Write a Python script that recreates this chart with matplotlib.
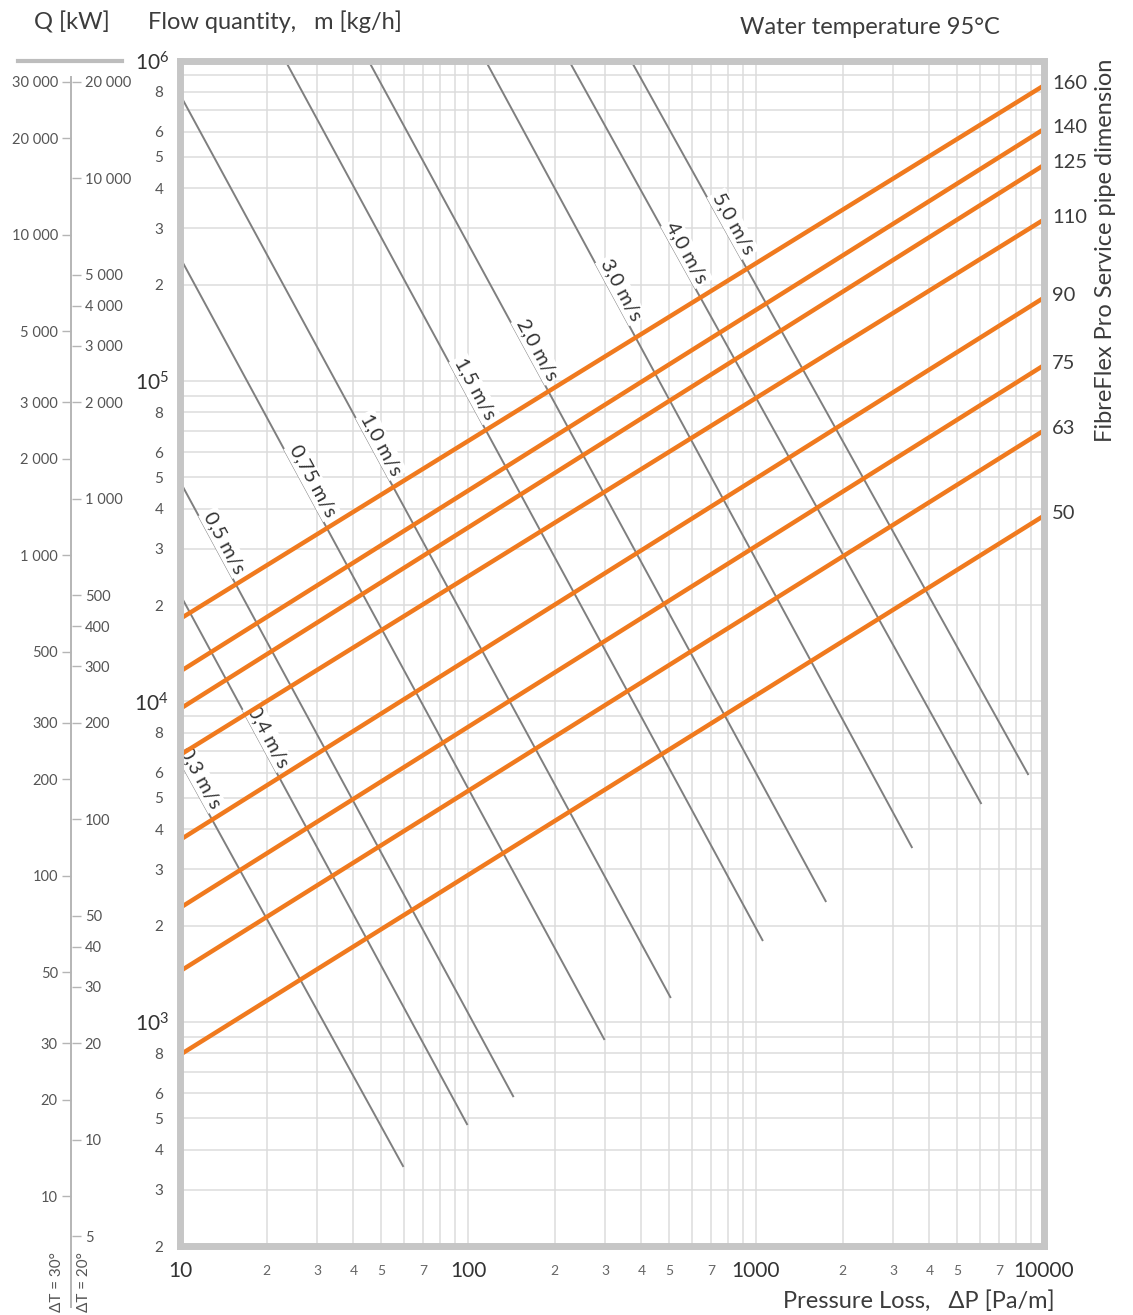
import numpy as np
import matplotlib
matplotlib.use('Agg')
import matplotlib.pyplot as plt
from matplotlib import ticker, transforms
from matplotlib.lines import Line2D

# orange pipe lines, flow [kg/h] read at dP = 10 and dP = 10000 Pa/m
pipe_dims = ['160', '140', '125', '110', '90', '75', '63', '50']
flow_at_10 = [18100, 12400, 9480, 6810, 3700, 2270, 1440, 790]
flow_at_10000 = [836000, 611000, 472000, 319000, 182000, 112000, 70100, 38000]

# grey velocity lines, start and end points (dP [Pa/m], flow [kg/h])
vel_labels = ['0,3 m/s', '0,4 m/s', '0,5 m/s', '0,75 m/s', '1,0 m/s',
              '1,5 m/s', '2,0 m/s', '3,0 m/s', '4,0 m/s', '5,0 m/s']
vel_dp_start = [10, 10, 10, 10, 10, 23.2, 45.1, 115, 224, 368]
vel_m_start = [6500, 21600, 48600, 243000, 783000, 1e6, 1e6, 1e6, 1e6, 1e6]
vel_dp_end = [59.7, 99.6, 144, 298, 506, 1057, 1752, 3488, 6062, 8831]
vel_m_end = [353, 477, 583, 879, 1188, 1789, 2368, 3490, 4788, 5897]

# heat output scale Q [kW]
q_dt30 = [30000, 20000, 10000, 5000, 3000, 2000, 1000, 500, 300, 200,
          100, 50, 30, 20, 10]
q_dt20 = [20000, 10000, 5000, 4000, 3000, 2000, 1000, 500, 400, 300,
          200, 100, 50, 40, 30, 20, 10, 5]
cp = 4.19  # kJ/kgK

plt.rcParams['font.family'] = ['Lato', 'DejaVu Sans']
plt.rcParams['mathtext.default'] = 'regular'

W, H = 1133, 1315
fig = plt.figure(figsize=(W / 100, H / 100), dpi=100)


def fx(px):
    return px / W


def fy(py):
    return 1 - py / H


ORANGE = '#f07a1e'
GREY = '#7f7f7f'
FRAME = '#c6c6c6'
TXT = '#3c3c3c'
TICK = '#555555'

ax = fig.add_axes([fx(180), fy(1246), fx(1044) - fx(180), fy(60.5) - fy(1246)])
ax.set_xscale('log')
ax.set_yscale('log')
ax.set_xlim(10, 10000)
ax.set_ylim(200, 1e6)

ax.xaxis.set_major_locator(ticker.LogLocator(base=10, numticks=10))
ax.xaxis.set_minor_locator(ticker.LogLocator(base=10, subs=np.arange(2, 10), numticks=40))
ax.yaxis.set_major_locator(ticker.LogLocator(base=10, numticks=10))
ax.yaxis.set_minor_locator(ticker.LogLocator(base=10, subs=np.arange(2, 10), numticks=40))


def lead_digit(v):
    return int(round(v / 10 ** np.floor(np.log10(v) + 1e-9)))


ax.xaxis.set_major_formatter(ticker.FuncFormatter(lambda v, p: '%d' % round(v)))
ax.xaxis.set_minor_formatter(ticker.FuncFormatter(
    lambda v, p: str(lead_digit(v)) if lead_digit(v) in (2, 3, 4, 5, 7) else ''))
ax.yaxis.set_major_formatter(ticker.FuncFormatter(
    lambda v, p: r'$10^{%d}$' % round(np.log10(v))))
ax.yaxis.set_minor_formatter(ticker.FuncFormatter(
    lambda v, p: str(lead_digit(v)) if lead_digit(v) in (2, 3, 4, 5, 6, 8) else ''))

ax.tick_params(which='both', length=0)
ax.tick_params(axis='x', which='major', labelsize=15, pad=11, labelcolor='#333333')
ax.tick_params(axis='x', which='minor', labelsize=10, pad=14, labelcolor='#666666')
ax.tick_params(axis='y', which='major', labelsize=15, pad=8, labelcolor='#333333')
ax.tick_params(axis='y', which='minor', labelsize=11, pad=12, labelcolor=TICK)

ax.grid(which='both', color='#dcdcdc', lw=1.1)
ax.set_axisbelow(True)
for s in ax.spines.values():
    s.set_color(FRAME)
    s.set_linewidth(5)
    s.set_zorder(6)

# velocity lines
for i in range(len(vel_labels)):
    ax.plot([vel_dp_start[i], vel_dp_end[i]], [vel_m_start[i], vel_m_end[i]],
            color=GREY, lw=1.4, zorder=2, solid_capstyle='butt')

# pipe lines
for i in range(len(pipe_dims)):
    ax.plot([10, 10000], [flow_at_10[i], flow_at_10000[i]],
            color=ORANGE, lw=3.2, zorder=4, solid_capstyle='butt')
    ax.annotate(pipe_dims[i], xy=(10000, flow_at_10000[i]), xytext=(8, 2),
                textcoords='offset pixels', ha='left', va='center',
                fontsize=14.5, color=TXT, annotation_clip=False)

# velocity labels, placed along each line
label_at = [10.96, 18.9, 13.3, 26.9, 46.7, 98.4, 161.7, 317, 537, 777]
for i, lab in enumerate(vel_labels):
    p1 = ax.transData.transform((vel_dp_start[i], vel_m_start[i]))
    p2 = ax.transData.transform((vel_dp_end[i], vel_m_end[i]))
    ang = np.degrees(np.arctan2(p2[1] - p1[1], p2[0] - p1[0]))
    k = np.log10(vel_m_end[i] / vel_m_start[i]) / np.log10(vel_dp_end[i] / vel_dp_start[i])
    x0 = label_at[i]
    y0 = vel_m_start[i] * (x0 / vel_dp_start[i]) ** k
    a = np.radians(ang)
    off = 10
    tr = transforms.offset_copy(ax.transData, fig=fig, x=-np.sin(a) * off,
                                y=np.cos(a) * off, units='dots')
    ax.text(x0, y0, lab, transform=tr, rotation=ang, rotation_mode='anchor',
            ha='center', va='center', fontsize=14.5, color='#333333', zorder=3,
            bbox=dict(boxstyle='square,pad=0.1', fc='white', ec='none'))

# Q [kW] scale on the left
dec = (1246 - 60.5) / np.log10(1e6 / 200)
m_lo = 10 ** (6 - (H - 60.5) / dec)
f30 = cp * 30 / 3600
f20 = cp * 20 / 3600


def spaced(q):
    return '{:,}'.format(q).replace(',', ' ')


aux = fig.add_axes([fx(71), 0, 0.0005, fy(60.5)])
aux.set_yscale('log')
aux.set_ylim(m_lo, 1e6)
aux.set_xticks([])
aux.set_yticks([q / f30 for q in q_dt30])
aux.set_yticklabels([spaced(q) for q in q_dt30])
aux.yaxis.set_minor_locator(ticker.NullLocator())
aux.patch.set_visible(False)
for k_, s in aux.spines.items():
    s.set_visible(k_ == 'left')
aux.spines['left'].set_color('#b5b5b5')
aux.spines['left'].set_linewidth(1.4)
aux.spines['left'].set_bounds(10 ** (6 - (77 - 60.5) / dec), 10 ** (6 - (1307 - 60.5) / dec))
aux.tick_params(axis='y', direction='out', length=6.5, width=1, color='#b5b5b5',
                labelsize=10.5, labelcolor=TICK, pad=3)

aux2 = aux.twinx()
aux2.set_yscale('log')
aux2.set_ylim(m_lo, 1e6)
aux2.set_yticks([q / f20 for q in q_dt20])
aux2.set_yticklabels([spaced(q) for q in q_dt20])
aux2.yaxis.set_minor_locator(ticker.NullLocator())
for s in aux2.spines.values():
    s.set_visible(False)
aux2.tick_params(axis='y', direction='out', length=6.5, width=1, color='#b5b5b5',
                 labelsize=10.5, labelcolor=TICK, pad=3)

fig.add_artist(Line2D([fx(18), fx(122)], [fy(60.5), fy(60.5)],
                      transform=fig.transFigure, color='#bdbdbd', lw=3))

# titles
fig.text(fx(72), fy(22), 'Q [kW]', ha='center', va='center', fontsize=17, color=TXT)
fig.text(fx(148), fy(22), 'Flow quantity,   m [kg/h]', ha='left', va='center',
         fontsize=17, color=TXT)
fig.text(fx(1000), fy(27), 'Water temperature 95°C', ha='right', va='center',
         fontsize=17, color=TXT)
fig.text(fx(1055), fy(1301), 'Pressure Loss,   ΔP [Pa/m]', ha='right', va='center',
         fontsize=17, color=TXT)
fig.text(fx(1106), fy(250), 'FibreFlex Pro Service pipe dimension', rotation=90,
         ha='center', va='center', fontsize=17, color=TXT)
fig.text(fx(57), fy(1312), 'ΔT = 30°', rotation=90, ha='center', va='bottom',
         fontsize=11, color=TICK)
fig.text(fx(84), fy(1312), 'ΔT = 20°', rotation=90, ha='center', va='bottom',
         fontsize=11, color=TICK)

fig.savefig('out.png', dpi=100)
